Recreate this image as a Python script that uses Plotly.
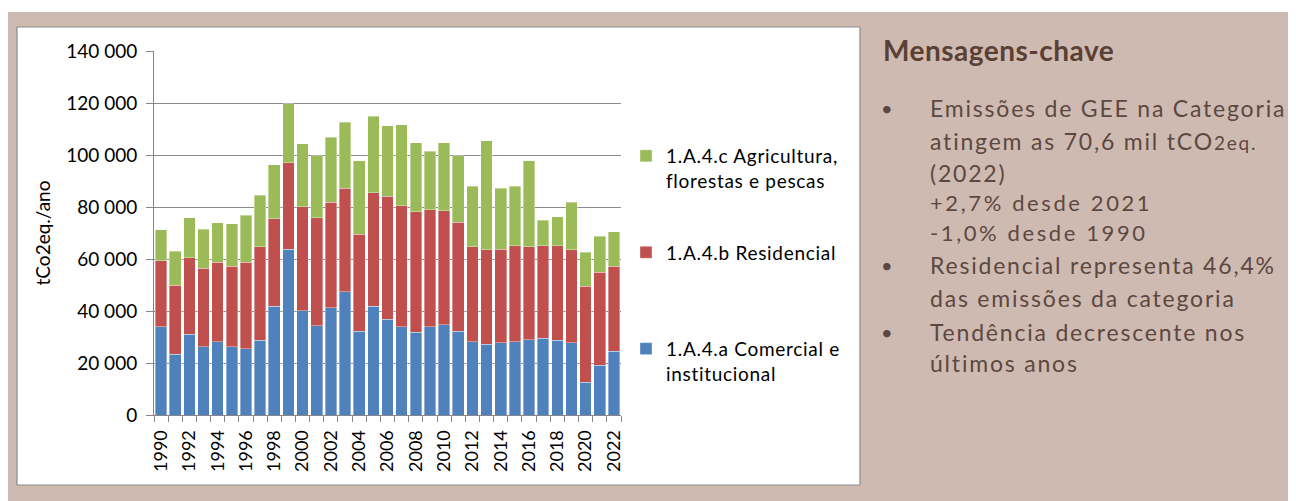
import plotly.graph_objects as go

years = list(range(1990, 2023))
# stacked cumulative tops (thousand tCO2eq)
comercial = [34.0, 23.3, 31.0, 26.2, 28.2, 26.2, 25.4, 28.7, 41.8, 63.8, 40.1, 34.4, 41.3, 47.4, 32.3, 41.8, 36.8,
             34.0, 31.9, 34.0, 34.7, 32.3, 28.2, 27.3, 27.8, 28.2, 29.0, 29.5, 28.7, 27.8, 12.6, 19.2, 24.5]
top_resid = [59.4, 49.9, 60.5, 56.4, 58.8, 57.3, 58.8, 64.7, 75.4, 97.1, 80.1, 75.8, 81.8, 87.2, 69.6, 85.5, 84.2,
             80.5, 78.2, 79.0, 78.6, 74.1, 64.7, 63.5, 63.8, 65.1, 64.7, 65.1, 65.1, 63.5, 49.5, 54.9, 57.2]
top_total = [71.2, 62.9, 75.8, 71.5, 74.0, 73.6, 76.9, 84.6, 96.2, 119.7, 104.4, 99.7, 106.8, 112.6, 97.8, 115.0, 111.3,
             111.7, 104.7, 101.5, 104.7, 99.7, 87.9, 105.5, 87.2, 87.9, 97.8, 74.9, 76.2, 81.8, 62.6, 68.7, 70.4]

residencial = [round(r - c, 1) for r, c in zip(top_resid, comercial)]
agricultura = [round(t - r, 1) for t, r in zip(top_total, top_resid)]

comercial_t = [v * 1000 for v in comercial]
residencial_t = [v * 1000 for v in residencial]
agricultura_t = [v * 1000 for v in agricultura]

series_names = ["1.A.4.a Comercial e<br>institucional", "1.A.4.b Residencial<br>&nbsp;",
                "1.A.4.c Agricultura,<br>florestas e pescas"]
series_colors = ["#4F81BD", "#C0504D", "#9BBB59"]
legend_ranks = [3, 2, 1]
tick_years = list(range(1990, 2023, 2))

title_text = "Mensagens-chave"
bullet_lines = [
    ("Emissões de GEE na Categoria", 108, True, 23, 1.8),
    ("atingem as 70,6 mil tCO<span style='font-size:19px'>2eq.</span>", 141, False, 23, 1.8),
    ("(2022)", 173, False, 23, 1.8),
    ("+2,7% desde 2021", 203, False, 22, 2.6),
    ("-1,0% desde 1990", 232, False, 22, 2.6),
    ("Residencial representa 46,4%", 265, True, 23, 1.8),
    ("das emissões da categoria", 298, False, 23, 1.8),
    ("Tendência decrescente nos", 332, True, 23, 1.8),
    ("últimos anos", 363, False, 23, 1.8),
]

# ---- geometry (page pixels; figure sits at page offset 8,8) ----
W, H = 1288, 493
L, T, PW, PH = 146, 43, 467, 364


def px(x):
    return (x - 8 - L) / PW


def py(y):
    return (T + PH - (y - 8)) / PH


TAN = "#CFBAB2"
TXT = "#5C4840"

fig = go.Figure()
for vals, name, col, rank in zip([comercial_t, residencial_t, agricultura_t], series_names, series_colors,
                                 legend_ranks):
    fig.add_trace(go.Bar(
        x=years, y=vals,
        name="<span style='letter-spacing:0.7px'>" + name + "</span>",
        marker=dict(color=col, line=dict(color="rgba(255,255,255,0.45)", width=0.8)),
        legendgroup=name, legendrank=rank,
    ))

shapes = [
    dict(type="rect", xref="paper", yref="paper", x0=px(8), x1=px(1296), y0=py(501), y1=py(12),
         fillcolor=TAN, line=dict(width=0), layer="below"),
    dict(type="rect", xref="paper", yref="paper", x0=px(17), x1=px(860), y0=py(485), y1=py(27),
         fillcolor="white", line=dict(color="#8C8C8C", width=1.2), layer="below"),
]

annotations = [
    dict(text="<b><span style='letter-spacing:0.5px'>" + title_text + "</span></b>",
         x=px(881), y=py(50), xref="paper", yref="paper",
         xanchor="left", yanchor="middle", showarrow=False,
         font=dict(family="Lato", size=28, color="#5A4034")),
]
for text, yy, bullet, size, spacing in bullet_lines:
    annotations.append(dict(
        text="<span style='letter-spacing:%spx'>" % spacing + text + "</span>",
        x=px(928), y=py(yy), xref="paper", yref="paper",
        xanchor="left", yanchor="middle", showarrow=False,
        font=dict(family="Lato", size=size, color=TXT)))
    if bullet:
        annotations.append(dict(
            text="•", x=px(887), y=py(yy), xref="paper", yref="paper",
            xanchor="center", yanchor="middle", showarrow=False,
            font=dict(family="Lato", size=20, color=TXT)))

fig.update_layout(
    width=W, height=H, autosize=False,
    margin=dict(l=L, r=W - L - PW, t=T, b=H - T - PH, pad=0),
    paper_bgcolor="white", plot_bgcolor="white",
    barmode="stack", bargap=0.18,
    separators=", ",
    font=dict(family="Lato", color="#000000"),
    shapes=shapes,
    annotations=annotations,
    legend=dict(
        x=px(626), y=py(137), xref="paper", yref="paper", xanchor="left", yanchor="top",
        traceorder="grouped", tracegroupgap=44, valign="top",
        font=dict(family="Lato", size=19, color="#000000"),
        bgcolor="rgba(0,0,0,0)", itemwidth=30,
    ),
    xaxis=dict(
        range=[1989.5, 2022.5], tickmode="array", tickvals=tick_years,
        ticktext=[str(y) for y in tick_years], tickangle=-90,
        tickfont=dict(family="Lato", size=18, color="#000000"),
        ticks="", showgrid=False, showline=True, linecolor="#868686", linewidth=1,
        ticklabelstandoff=7,
        minor=dict(tickmode="array", tickvals=[y - 0.5 for y in years] + [2022.5],
                   ticks="outside", ticklen=6, tickcolor="#868686", showgrid=False),
        zeroline=False,
    ),
    yaxis=dict(
        range=[0, 140000], dtick=20000, tickformat=",d",
        tickfont=dict(family="Lato", size=19, color="#000000"),
        ticks="outside", ticklen=7, tickcolor="#868686",
        showgrid=True, gridcolor="#8A8A8A", gridwidth=1,
        showline=True, linecolor="#868686", linewidth=1, zeroline=False,
        ticklabelstandoff=5,
        title=dict(text="tCo2eq./ano", font=dict(family="Lato", size=19, color="#000000"), standoff=10),
    ),
)

fig.write_html("out.html")
